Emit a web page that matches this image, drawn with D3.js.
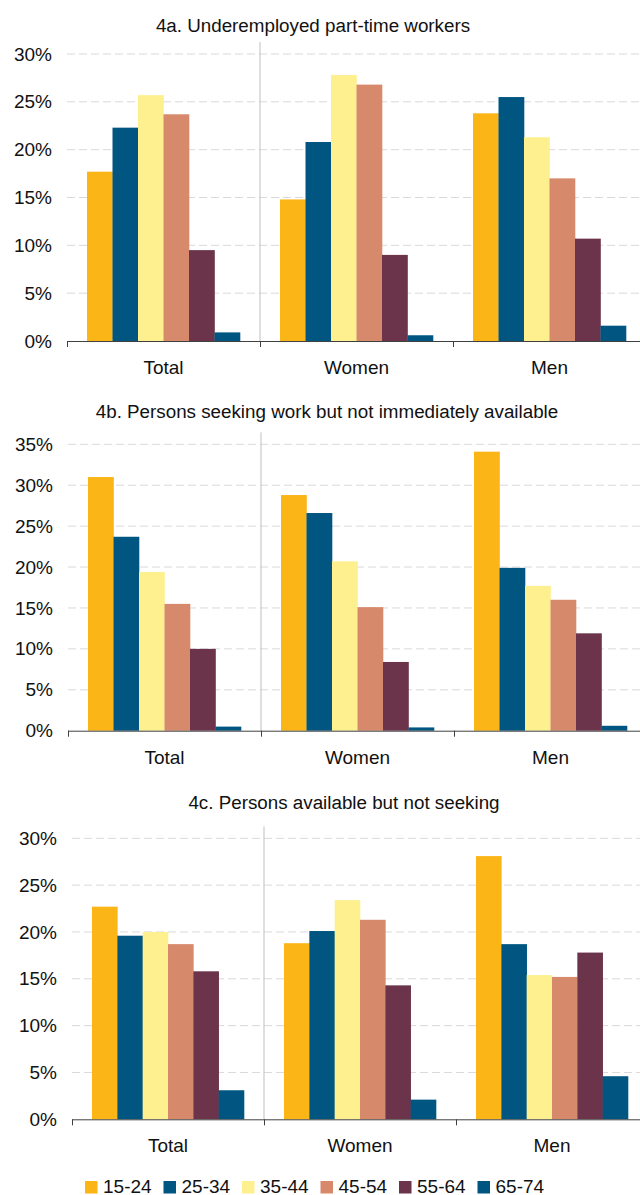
<!DOCTYPE html>
<html>
<head>
<meta charset="utf-8">
<script src="https://cdn.jsdelivr.net/npm/d3@7"></script>
<style>
    body { margin: 0; background: #fff; }
    svg { display: block; font-family: "Liberation Sans", Arial, sans-serif; }
</style>
</head>
<body>
<div id="chart-area"></div>
<script>
const categories = ["Total", "Women", "Men"];
const ageGroups = ["15-24", "25-34", "35-44", "45-54", "55-64", "65-74"];
const colors = ["#fbb517", "#005581", "#fef08e", "#d7896b", "#6b344a", "#005581"];

// values in % per category, one entry per age group
const underemployed = [
    [17.7, 22.3, 25.7, 23.7, 9.5, 0.9],
    [14.8, 20.8, 27.8, 26.8, 9.0, 0.6],
    [23.8, 25.5, 21.3, 17.0, 10.7, 1.6]
];
const seekingNotAvailable = [
    [31.0, 23.7, 19.4, 15.5, 10.0, 0.5],
    [28.8, 26.6, 20.7, 15.1, 8.4, 0.4],
    [34.1, 19.9, 17.7, 16.0, 11.9, 0.6]
];
const availableNotSeeking = [
    [22.7, 19.6, 20.0, 18.7, 15.8, 3.1],
    [18.8, 20.1, 23.4, 21.3, 14.3, 2.1],
    [28.1, 18.7, 15.4, 15.2, 17.8, 4.6]
];

const ticks30 = [0, 5, 10, 15, 20, 25, 30];
const ticks35 = [0, 5, 10, 15, 20, 25, 30, 35];

const panels = [
    { title: "4a. Underemployed part-time workers", values: underemployed, ticks: ticks30,
      top: 54, bottom: 341, left: 67, right: 646, titleX: 313, titleY: 31.5 },
    { title: "4b. Persons seeking work but not immediately available", values: seekingNotAvailable, ticks: ticks35,
      top: 444.3, bottom: 730.7, left: 68, right: 647, titleX: 327, titleY: 418 },
    { title: "4c. Persons available but not seeking", values: availableNotSeeking, ticks: ticks30,
      top: 838.3, bottom: 1119.3, left: 72, right: 648, titleX: 344, titleY: 809 }
];

const chartSize = { width: 640, height: 1195 };
const labelSize = 19;
const titleSize = 18.8;

const svg = d3.select("#chart-area")
    .append("svg")
    .attr("width", chartSize.width)
    .attr("height", chartSize.height);

const color = d3.scaleOrdinal().domain(ageGroups).range(colors);

const drawPanel = (p) => {
    const g = svg.append("g");
    const maxTick = p.ticks[p.ticks.length - 1];

    const y = d3.scaleLinear().domain([0, maxTick]).range([p.bottom, p.top]);
    const x = d3.scaleBand().domain(categories).range([p.left, p.right]).padding(0);
    const xInner = d3.scaleBand().domain(ageGroups)
        .range([20, x.bandwidth() - 20]).padding(0);

    // dashed gridlines
    g.selectAll(".grid").data(p.ticks.filter(t => t > 0)).enter()
        .append("line")
        .attr("x1", p.left).attr("x2", chartSize.width)
        .attr("y1", t => y(t)).attr("y2", t => y(t))
        .attr("stroke", "#d9d9d9")
        .attr("stroke-width", 1)
        .attr("stroke-dasharray", "8,4");

    // separator between Total and Women
    g.append("line")
        .attr("x1", x("Women")).attr("x2", x("Women"))
        .attr("y1", p.top - 12).attr("y2", p.bottom)
        .attr("stroke", "#bfbfbf");

    // y labels
    const yAxis = d3.axisLeft(y).tickValues(p.ticks).tickFormat(d => d + "%").tickSize(0).tickPadding(15);
    g.append("g")
        .attr("transform", `translate(${p.left}, 0)`)
        .call(yAxis)
        .call(a => a.select(".domain").remove())
        .selectAll("text")
        .attr("font-size", labelSize)
        .attr("font-family", "Liberation Sans, Arial, sans-serif")
        .attr("fill", "#111");

    // bars
    categories.forEach((cat, ci) => {
        g.selectAll(".bar-" + ci).data(p.values[ci]).enter()
            .append("rect")
            .attr("x", (v, i) => x(cat) + xInner(ageGroups[i]))
            .attr("y", v => y(v))
            .attr("width", xInner.bandwidth() + 0.3)
            .attr("height", v => y(0) - y(v))
            .attr("fill", (v, i) => color(ageGroups[i]));
    });

    // x axis line and ticks
    g.append("line")
        .attr("x1", p.left).attr("x2", chartSize.width)
        .attr("y1", p.bottom + 0.5).attr("y2", p.bottom + 0.5)
        .attr("stroke", "#404040");
    g.selectAll(".xtick").data(categories).enter()
        .append("line")
        .attr("x1", c => x(c) + 0.5).attr("x2", c => x(c) + 0.5)
        .attr("y1", p.bottom).attr("y2", p.bottom + 6)
        .attr("stroke", "#404040");

    g.selectAll(".xlabel").data(categories).enter()
        .append("text")
        .attr("x", c => x(c) + x.bandwidth() / 2)
        .attr("y", p.bottom + 33)
        .attr("text-anchor", "middle")
        .attr("font-size", labelSize)
        .attr("fill", "#111")
        .text(c => c);

    g.append("text")
        .attr("x", p.titleX)
        .attr("y", p.titleY)
        .attr("text-anchor", "middle")
        .attr("font-size", titleSize)
        .attr("fill", "#111")
        .text(p.title);
};

panels.forEach(drawPanel);

// legend
const legend = svg.append("g").attr("transform", "translate(85, 1181)");
const item = legend.selectAll(".item").data(ageGroups).enter()
    .append("g")
    .attr("transform", (d, i) => `translate(${i * 78.5}, 0)`);
item.append("rect")
    .attr("width", 12.5).attr("height", 12.5)
    .attr("fill", d => color(d));
item.append("text")
    .attr("x", 18).attr("y", 11.5)
    .attr("font-size", labelSize)
    .attr("fill", "#111")
    .text(d => d);
</script>
</body>
</html>
